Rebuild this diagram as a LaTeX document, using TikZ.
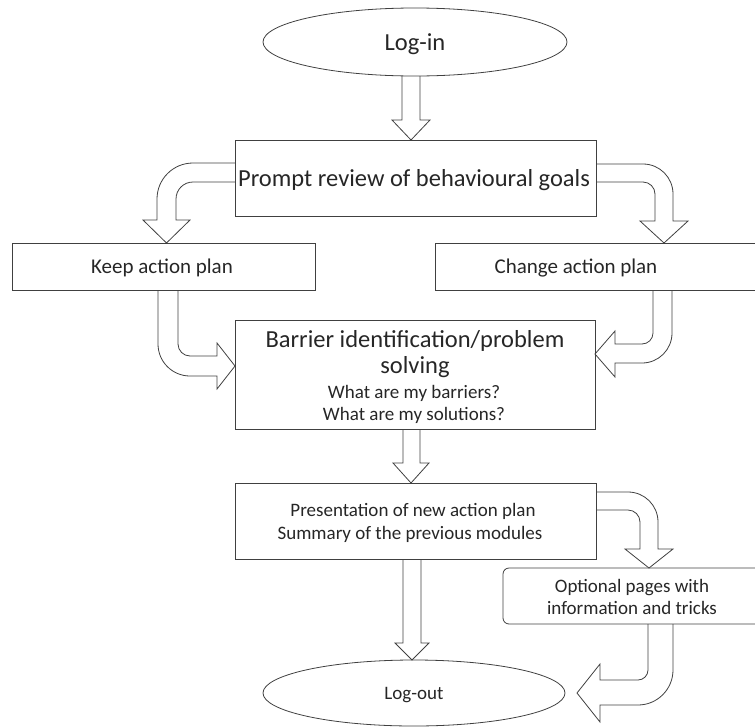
\documentclass[tikz,border=0pt]{standalone}
\usepackage{fontspec}
\setmainfont{Carlito}
\usetikzlibrary{shapes.geometric}
\definecolor{ln}{HTML}{404040}
\definecolor{tx}{HTML}{262626}
\begin{document}
\begin{tikzpicture}[x=1pt,y=-1pt,
  box/.style={draw=ln,line width=0.8pt,rectangle,inner sep=0pt},
  ell/.style={draw=ln,line width=0.8pt,ellipse,inner sep=0pt},
  txt/.style={text=tx,inner sep=0pt,anchor=base},
  barrow/.style={draw=ln,line width=0.8pt,line join=miter},
  fbig/.style={font=\fontsize{24.5}{28}\selectfont},
  fmid/.style={font=\fontsize{21}{25}\selectfont},
  fsm/.style={font=\fontsize{19}{22}\selectfont}]
\useasboundingbox (0,0) rectangle (755,726);
% ellipses
\node[ell,minimum width=304pt,minimum height=68pt] (login) at (415,42) {};
\node[txt,fbig] (logintxt) at (415,50) {Log-in};
\node[ell,minimum width=302pt,minimum height=66pt] (logout) at (414,693) {};
\node[txt,fsm] (logouttxt) at (414,699) {Log-out};
% boxes
\node[box,minimum width=361pt,minimum height=76pt] (prompt) at (415.5,178) {};
\node[txt,fbig] (prompttxt) at (414,186) {Prompt review of behavioural goals};
\node[box,minimum width=303pt,minimum height=47pt] (keep) at (163.5,266.5) {};
\node[txt,fmid] (keeptxt) at (162,273) {Keep action plan};
\draw[ln,line width=0.8pt] (435,243) -- (765,243) (435,243) -- (435,290) -- (765,290);
\node[txt,fmid] (change) at (576,273) {Change action plan};
\node[box,minimum width=360pt,minimum height=109pt] (barrier) at (415,374.5) {};
\node[txt,fbig] (b1) at (415,347) {Barrier identification/problem};
\node[txt,fbig] (b2) at (415,373) {solving};
\node[txt,fsm] (b3) at (414,398) {What are my barriers?};
\node[txt,fsm] (b4) at (414,420) {What are my solutions?};
\node[box,minimum width=361pt,minimum height=76pt] (present) at (415.5,521) {};
\node[txt,fsm] (p1) at (413,516) {Presentation of new action plan};
\node[txt,fsm] (p2) at (410,539) {Summary of the previous modules};
\draw[ln,line width=0.8pt,rounded corners=6pt] (765,568) -- (503,568) -- (503,624) -- (765,624);
\node[txt,fsm] (o1) at (632,592) {Optional pages with};
\node[txt,fsm] (o2) at (632,614) {information and tricks};
% straight block arrows
\draw[barrow] (402,76) -- (402,120) -- (392,120) -- (411,140) -- (430,120) -- (420,120) -- (420,76);
\draw[barrow] (403,429) -- (403,463) -- (393,463) -- (411,483) -- (429,463) -- (420,463) -- (420,429);
\draw[barrow] (403,559) -- (403,643) -- (395,643) -- (412,660) -- (429,643) -- (421,643) -- (421,559);
% bent block arrows
\draw[barrow] (235,163) -- (193,163) .. controls (173.1,163) and (157,179.1) .. (157,199) -- (157,220) -- (143,220) -- (166.5,243) -- (190,220) -- (176,220) -- (176,199) .. controls (176,189.6) and (183.6,182) .. (193,182) -- (235,182);
\draw[barrow] (596,164) -- (643,164) .. controls (659.6,164) and (673,177.4) .. (673,194) -- (673,221) -- (688,221) -- (664,243) -- (640,221) -- (655,221) -- (655,194) .. controls (655,187.4) and (649.6,182) .. (643,182) -- (596,182);
\draw[barrow] (158,290) -- (158,344) .. controls (158,361.7) and (172.3,376) .. (190,376) -- (217,376) -- (217,389) -- (235,366) -- (217,343) -- (217,356) -- (190,356) .. controls (183.4,356) and (178,350.6) .. (178,344) -- (178,290);
\draw[barrow] (672,290) -- (672,333) .. controls (672,349.6) and (658.6,363) .. (642,363) -- (615,363) -- (615,377) -- (595,354) -- (615,331) -- (615,344) -- (642,344) .. controls (648.1,344) and (653,339.1) .. (653,333) -- (653,290);
\draw[barrow] (596,492) -- (628,492) .. controls (644.6,492) and (658,505.4) .. (658,522) -- (658,549) -- (673,549) -- (649,568) -- (625,549) -- (640,549) -- (640,522) .. controls (640,515.4) and (634.6,510) .. (628,510) -- (596,510);
\draw[barrow] (673,624) -- (673,670) .. controls (673,689.3) and (657.3,705) .. (638,705) -- (600,705) -- (600,722) -- (577,693) -- (600,664) -- (600,680) -- (638,680) .. controls (643.5,680) and (648,675.5) .. (648,670) -- (648,624);
\end{tikzpicture}
\end{document}
